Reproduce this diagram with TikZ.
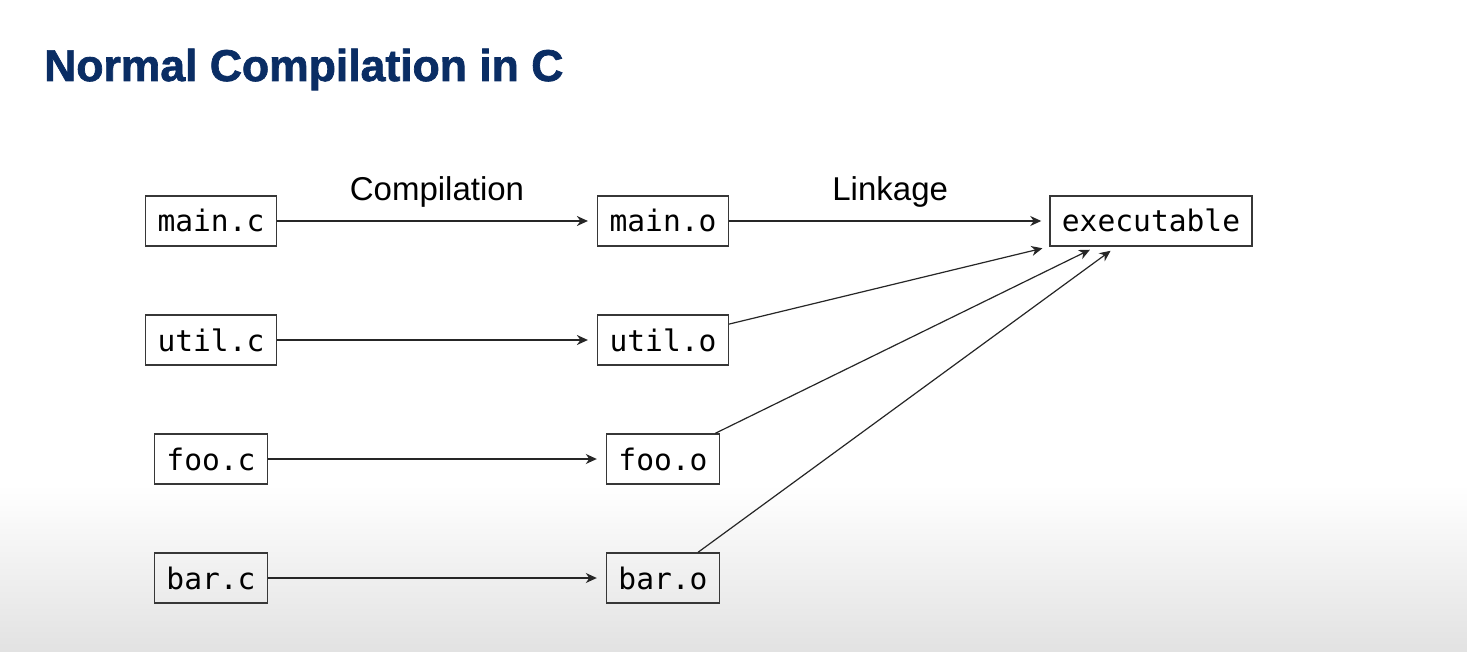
\documentclass[tikz,border=0pt]{standalone}
\usepackage{fontspec}
\usetikzlibrary{arrows.meta,calc,positioning}
\setmainfont{Liberation Sans}
\newfontfamily\codefont{DejaVu Sans Mono}
\newfontfamily\titlefont[FakeBold=1.6]{Liberation Sans Bold}
\definecolor{titleblue}{RGB}{10,45,100}
\definecolor{bgbottom}{RGB}{226,226,226}
\definecolor{boxline}{RGB}{55,55,55}

\begin{document}
\begin{tikzpicture}[x=1pt,y=-1pt,
  file/.style={draw=boxline, line width=1.3pt, inner xsep=12pt, inner ysep=0pt,
    minimum height=50pt, text height=22pt, text depth=0pt,
    font=\codefont\fontsize{29.6}{34}\selectfont},
  flow/.style={-{Stealth[length=11pt,width=10pt,inset=3.5pt]}, line width=1.2pt,
    draw=black!85, shorten >=8pt},
  stagelbl/.style={font=\fontsize{33}{38}\selectfont, anchor=base, yshift=20pt, inner sep=0pt}]
% fond
\useasboundingbox (0,0) rectangle (1467,652);
\fill[white] (0,0) rectangle (1467,486);
\shade[top color=white, bottom color=bgbottom] (0,485) rectangle (1467,652);
% titolo
\node[anchor=base west, inner sep=0pt, text=titleblue,
  font=\titlefont\fontsize{44.5}{50}\selectfont] (title) at (44,81) {Normal Compilation in C};
% sorgenti e oggetti
\foreach \f/\y in {main/221, util/340, foo/459, bar/578}{
  \node[file] (\f-c) at (211,\y) {\f.c};
  \node[file] (\f-o) at (663,\y) {\f.o};
  \draw[flow, shorten >=9pt] (\f-c) -- (\f-o);
}
\path (main-c) -- node[stagelbl] (comp) {Compilation} (main-o);
% linker
\node[file] (exec) at (1151,221) {executable};
\draw[flow] (main-o) -- node[stagelbl, xshift=1pt] (link) {Linkage} (exec);
\draw[flow, shorten >=7pt] (util-o) -- (exec.south west);
\draw[flow, shorten >=7pt] (foo-o) -- ([xshift=47pt]exec.south west);
\draw[flow, shorten >=7pt] (bar-o) -- ([xshift=67pt]exec.south west);
\end{tikzpicture}
\end{document}
